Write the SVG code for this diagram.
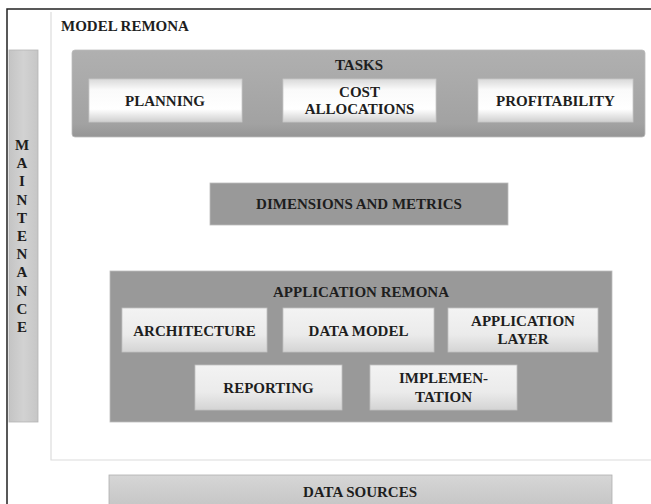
<svg xmlns="http://www.w3.org/2000/svg" width="651" height="504" viewBox="0 0 651 504">
<defs>
<linearGradient id="gWhite" x1="0" y1="0" x2="0" y2="1">
<stop offset="0" stop-color="#d9d9d9"/>
<stop offset="0.25" stop-color="#fafafa"/>
<stop offset="0.7" stop-color="#ffffff"/>
<stop offset="1" stop-color="#cfcfcf"/>
</linearGradient>
<linearGradient id="gApp" x1="0" y1="0" x2="0" y2="1">
<stop offset="0" stop-color="#f3f3f3"/>
<stop offset="0.6" stop-color="#ebebeb"/>
<stop offset="1" stop-color="#d4d4d4"/>
</linearGradient>
<linearGradient id="gTasks" x1="0" y1="0" x2="0" y2="1">
<stop offset="0" stop-color="#b0b0b0"/>
<stop offset="0.85" stop-color="#a2a2a2"/>
<stop offset="1" stop-color="#959595"/>
</linearGradient>
<linearGradient id="gLight" x1="0" y1="0" x2="0" y2="1">
<stop offset="0" stop-color="#d6d6d6"/>
<stop offset="1" stop-color="#c4c4c4"/>
</linearGradient>
<linearGradient id="gMaint" x1="0" y1="0" x2="1" y2="0">
<stop offset="0" stop-color="#c4c4c4"/>
<stop offset="0.5" stop-color="#d2d2d2"/>
<stop offset="1" stop-color="#c6c6c6"/>
</linearGradient>
</defs>
<style>
text{font-family:"Liberation Serif","Times New Roman",serif;font-weight:bold;font-size:15px;fill:#1e1e1e;text-anchor:middle}
.item{fill:url(#gWhite);stroke:#c8c8c8;stroke-width:0.8}
.appitem{fill:url(#gApp);stroke:#c0c0c0;stroke-width:0.8}
.dark{fill:#999999;stroke:#bcbcbc;stroke-width:0.8}
</style>
<rect x="0" y="0" width="651" height="504" fill="#ffffff"/>
<g id="frame">
<path d="M7,504 V9 H651" fill="none" stroke="#222" stroke-width="1.5"/>
<path d="M51,12 V460 H651" fill="none" stroke="#dcdcdc" stroke-width="1.2"/>
<text x="61" y="31" style="text-anchor:start">MODEL REMONA</text>
</g>
<g id="maintenance">
<rect x="9" y="50" width="29" height="372" fill="url(#gMaint)" stroke="#b5b5b5" stroke-width="0.8"/>
<text x="22" y="150">M</text>
<text x="22" y="168">A</text>
<text x="22" y="186">I</text>
<text x="22" y="205">N</text>
<text x="22" y="223">T</text>
<text x="22" y="241">E</text>
<text x="22" y="259">N</text>
<text x="22" y="277">A</text>
<text x="22" y="296">N</text>
<text x="22" y="314">C</text>
<text x="22" y="332">E</text>
</g>
<g id="tasks">
<rect x="72" y="50" width="573" height="87" rx="3" fill="url(#gTasks)" stroke="#bdbdbd" stroke-width="0.8"/>
<text x="359" y="70">TASKS</text>
</g>
<g id="planning">
<rect class="item" x="89" y="79" width="153" height="43"/>
<text x="165" y="106">PLANNING</text>
</g>
<g id="cost-allocations">
<rect class="item" x="283" y="79" width="153" height="43"/>
<text x="359.5" y="97">COST</text>
<text x="359.5" y="114">ALLOCATIONS</text>
</g>
<g id="profitability">
<rect class="item" x="478" y="79" width="155" height="43"/>
<text x="555.5" y="106">PROFITABILITY</text>
</g>
<g id="dimensions">
<rect class="dark" x="210" y="183" width="298" height="42"/>
<text x="359" y="209">DIMENSIONS AND METRICS</text>
</g>
<g id="application-remona">
<rect class="dark" x="110" y="271" width="502" height="151"/>
<text x="361" y="297">APPLICATION REMONA</text>
</g>
<g id="architecture">
<rect class="appitem" x="122" y="308" width="145" height="44"/>
<text x="194.5" y="336">ARCHITECTURE</text>
</g>
<g id="data-model">
<rect class="appitem" x="283" y="308" width="151" height="44"/>
<text x="358.5" y="336">DATA MODEL</text>
</g>
<g id="application-layer">
<rect class="appitem" x="448" y="308" width="150" height="44"/>
<text x="523" y="326">APPLICATION</text>
<text x="523" y="344">LAYER</text>
</g>
<g id="reporting">
<rect class="appitem" x="195" y="365" width="147" height="45"/>
<text x="268.5" y="393">REPORTING</text>
</g>
<g id="implementation">
<rect class="appitem" x="370" y="365" width="147" height="45"/>
<text x="443.5" y="383">IMPLEMEN-</text>
<text x="443.5" y="402">TATION</text>
</g>
<g id="data-sources">
<rect x="109" y="475" width="503" height="35" fill="url(#gLight)" stroke="#b0b0b0" stroke-width="0.8"/>
<text x="360" y="497">DATA SOURCES</text>
</g>
</svg>
